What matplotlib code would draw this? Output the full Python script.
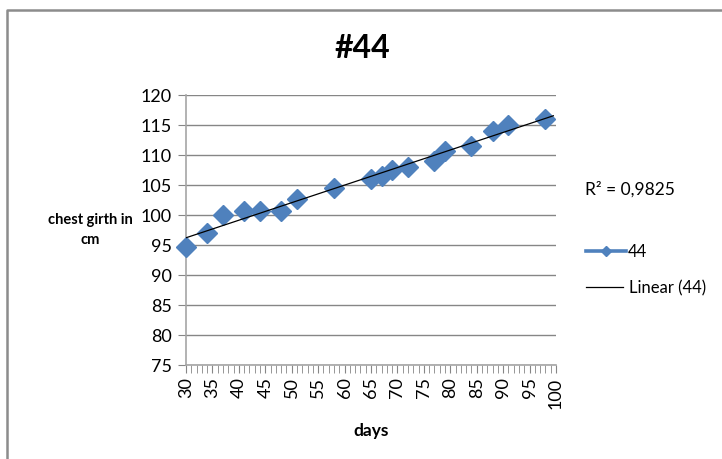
import numpy as np
import matplotlib.pyplot as plt
from matplotlib.lines import Line2D
from matplotlib.ticker import MultipleLocator

plt.rcParams['font.family'] = ['Lato', 'DejaVu Sans']

# days of measurement and chest girth (cm) for animal #44
days = [30, 34, 37, 41, 44, 48, 51, 58, 65, 67, 69, 72, 77, 79, 84, 88, 91, 98]
girth = [94.7, 97.0, 100.0, 100.7, 100.7, 100.7, 102.7, 104.5, 106.0, 106.5,
         107.5, 108.0, 109.0, 110.7, 111.5, 114.0, 115.0, 116.0]
r2_label = 'R² = 0,9825'

blue = '#4F81BD'
grey = '#868686'

fig = plt.figure(figsize=(7.22, 4.59), dpi=100)
ax = fig.add_axes([186 / 722, 1 - 365 / 459, 370 / 722, 270 / 459])

ax.plot(days, girth, linestyle='none', marker='D', markersize=10,
        color=blue, zorder=3, clip_on=False)

# linear trendline
k, b = np.polyfit(days, girth, 1)
xs = np.array([min(days), max(days) + 1.5])
ax.plot(xs, k * xs + b, color='black', linewidth=0.9, zorder=4)

ax.set_xlim(30, 100)
ax.set_ylim(75, 120)
ax.xaxis.set_major_locator(MultipleLocator(5))
ax.xaxis.set_minor_locator(MultipleLocator(1))
ax.yaxis.set_major_locator(MultipleLocator(5))

ax.grid(axis='y', color=grey, linewidth=1)
ax.set_axisbelow(True)
for s in ['top', 'right']:
    ax.spines[s].set_visible(False)
for s in ['left', 'bottom']:
    ax.spines[s].set_color('#A6A6A6')
    ax.spines[s].set_linewidth(1.2)

ax.tick_params(axis='y', length=6, color=grey, labelsize=13, pad=4)
ax.tick_params(axis='x', which='both', length=6, color=grey, labelsize=13,
               labelrotation=90, pad=3)
ax.tick_params(axis='x', which='minor', length=6)

ax.set_xlabel('days', fontsize=12.5, fontweight='bold', labelpad=10)
fig.text(90 / 722, 1 - 230 / 459, 'chest girth in\ncm', ha='center', va='center',
         fontsize=10.5, fontweight='bold', linespacing=1.6)
fig.text(362 / 722, 1 - 48 / 459, '#44', ha='center', va='center',
         fontsize=23, fontweight='bold')
fig.text(585 / 722, 1 - 189 / 459, r2_label, ha='left', va='center', fontsize=12.5)

# legend entries
fig.add_artist(Line2D([586 / 722, 626 / 722], [1 - 251 / 459] * 2, color=blue,
                      linewidth=2.6))
fig.add_artist(Line2D([606 / 722], [1 - 251 / 459], marker='D', markersize=5.5,
                      color=blue))
fig.text(628 / 722, 1 - 252 / 459, '44', ha='left', va='center', fontsize=12)
fig.add_artist(Line2D([586 / 722, 623 / 722], [1 - 287 / 459] * 2, color='black',
                      linewidth=0.9))
fig.text(629 / 722, 1 - 288 / 459, 'Linear (44)', ha='left', va='center', fontsize=12)

# chart area frame
fig.add_artist(Line2D([6.5 / 722, 6.5 / 722, 1], [0, 1 - 10 / 459, 1 - 10 / 459],
                      color='#8C8C8C', linewidth=1.8))

fig.savefig('out.png', dpi=100)
